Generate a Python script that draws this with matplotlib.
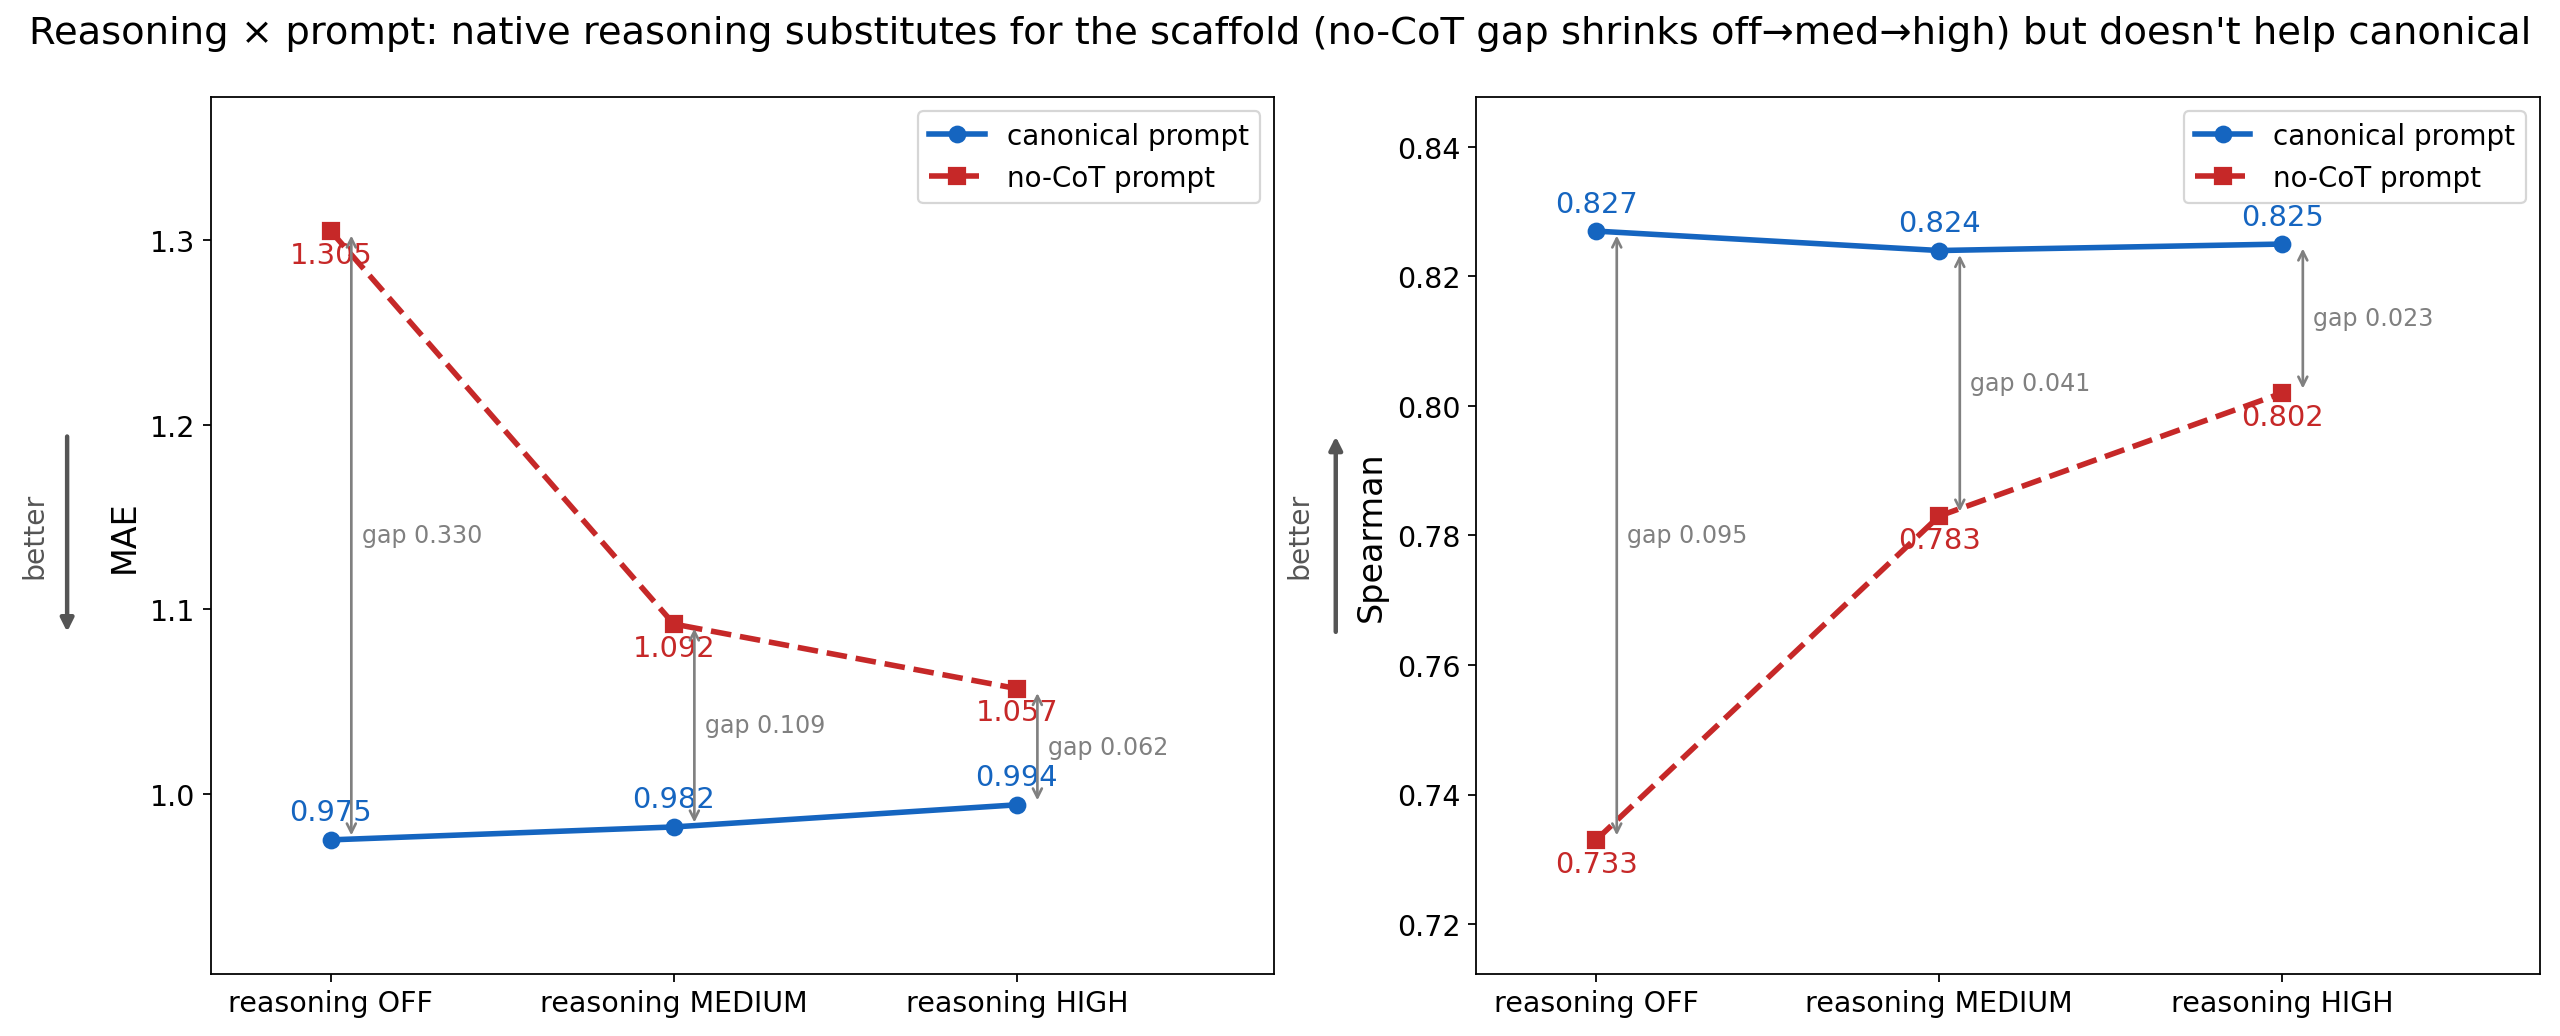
import matplotlib
matplotlib.use("Agg")
import matplotlib.pyplot as plt

# data
conditions = ["reasoning OFF", "reasoning MEDIUM", "reasoning HIGH"]
mae_canonical = [0.975, 0.982, 0.994]
mae_nocot = [1.305, 1.092, 1.057]
mae_gap = [0.330, 0.109, 0.062]
spearman_canonical = [0.827, 0.824, 0.825]
spearman_nocot = [0.733, 0.783, 0.802]
spearman_gap = [0.095, 0.041, 0.023]

BLUE = "#1565C0"
RED = "#C62828"

fig, axes = plt.subplots(1, 2, figsize=(16, 6.48), dpi=160)
fig.subplots_adjust(left=0.0823, right=0.992, bottom=0.06, top=0.9055, wspace=0.19)

panels = [
    (axes[0], mae_canonical, mae_nocot, mae_gap, "MAE", "down"),
    (axes[1], spearman_canonical, spearman_nocot, spearman_gap, "Spearman", "up"),
]

x = list(range(len(conditions)))
for ax, canon, nocot, gaps, ylab, direction in panels:
    ax.plot(x, canon, "-o", color=BLUE, lw=2.5, ms=7, label="canonical prompt")
    ax.plot(x, nocot, "--s", color=RED, lw=2.5, ms=7, label="no-CoT prompt")

    for xi, c, n, g in zip(x, canon, nocot, gaps):
        ax.annotate(f"{c:.3f}", (xi, c), xytext=(0, 6), textcoords="offset points",
                    ha="center", va="bottom", color=BLUE, fontsize=13)
        ax.annotate(f"{n:.3f}", (xi, n), xytext=(0, -4.5), textcoords="offset points",
                    ha="center", va="top", color=RED, fontsize=13)
        # gap arrow
        ax.annotate("", xy=(xi + 0.06, n), xytext=(xi + 0.06, c),
                    arrowprops=dict(arrowstyle="<->", color="gray", lw=1.2))
        ax.text(xi + 0.09, (c + n) / 2, f"gap {g:.3f}", color="gray",
                fontsize=10.7, ha="left", va="center")

    lo = min(canon + nocot)
    hi = max(canon + nocot)
    pad = 0.22 * (hi - lo)
    ax.set_ylim(lo - pad, hi + pad)
    ax.set_xlim(-0.35, 2.75)
    ax.set_xticks(x)
    ax.set_xticklabels(conditions)
    ax.tick_params(labelsize=12.8)
    ax.set_ylabel(ylab, fontsize=15)
    ax.legend(loc="upper right", fontsize=12.5)

    # "better" arrow
    if direction == "down":
        ax.annotate("", xy=(-0.135, 0.385), xytext=(-0.135, 0.618), xycoords="axes fraction",
                    arrowprops=dict(arrowstyle="-|>", color="#555555", lw=2, mutation_scale=12),
                    annotation_clip=False)
    else:
        ax.annotate("", xy=(-0.132, 0.618), xytext=(-0.132, 0.385), xycoords="axes fraction",
                    arrowprops=dict(arrowstyle="-|>", color="#555555", lw=2, mutation_scale=12),
                    annotation_clip=False)
    ax.text(-0.166, 0.5, "better", transform=ax.transAxes, rotation=90,
            ha="center", va="center", color="#555555", fontsize=12.7)

fig.suptitle("Reasoning × prompt: native reasoning substitutes for the scaffold "
             "(no-CoT gap shrinks off→med→high) but doesn't help canonical",
             fontsize=17.3, y=0.985)

fig.savefig("out.png", dpi=160)
